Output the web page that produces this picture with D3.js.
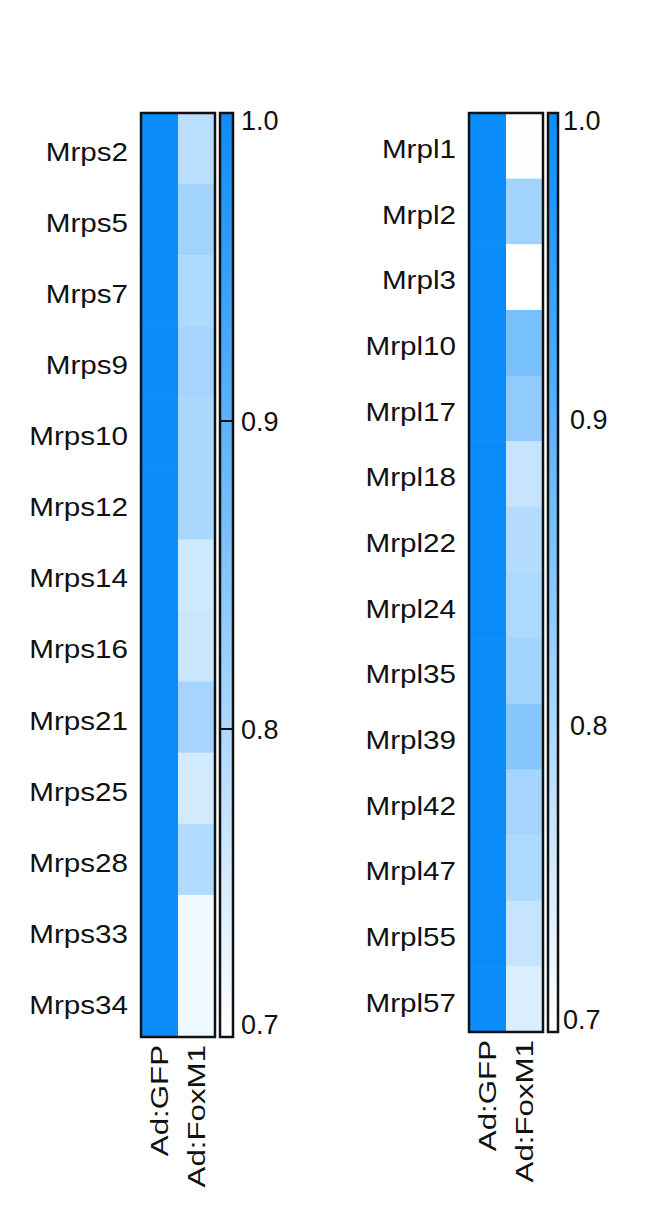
<!DOCTYPE html>
<html>
<head>
<meta charset="utf-8">
<script src="https://cdn.jsdelivr.net/npm/d3@7"></script>
<style>
  html, body { margin: 0; padding: 0; background: #fff; }
  svg { display: block; }
  text { font-family: "Liberation Sans", Arial, sans-serif; fill: #111; }
</style>
</head>
<body>
<svg id="chart" width="650" height="1231"></svg>
<script>
// ---- Data ----
const conditions = ["Ad:GFP", "Ad:FoxM1"];
const mrpsGenes = ["Mrps2","Mrps5","Mrps7","Mrps9","Mrps10","Mrps12","Mrps14","Mrps16","Mrps21","Mrps25","Mrps28","Mrps33","Mrps34"];
const mrpsGFP   = [1,1,1,1,1,1,1,1,1,1,1,1,1];
const mrpsFoxM1 = [0.785,0.815,0.80,0.81,0.805,0.805,0.76,0.765,0.81,0.755,0.795,0.72,0.72];
const mrplGenes = ["Mrpl1","Mrpl2","Mrpl3","Mrpl10","Mrpl17","Mrpl18","Mrpl22","Mrpl24","Mrpl35","Mrpl39","Mrpl42","Mrpl47","Mrpl55","Mrpl57"];
const mrplGFP   = [1,1,1,1,1,1,1,1,1,1,1,1,1,1];
const mrplFoxM1 = [0.705,0.815,0.70,0.865,0.835,0.77,0.79,0.80,0.815,0.85,0.81,0.80,0.77,0.745];
const colorTicks = [1.0, 0.9, 0.8, 0.7];
const colorDomain = [0.7, 1.0];

const svg = d3.select("#chart");
const color = d3.scaleLinear().domain(colorDomain).range(["#ffffff", "#0a8cfb"]).interpolate(d3.interpolateRgb);

function panel(cfg) {
  const g = svg.append("g");
  const y = d3.scaleBand().domain(cfg.genes).range([cfg.top, cfg.bottom]);
  const x = d3.scaleBand().domain(conditions).range([cfg.left, cfg.right]);
  const rows = cfg.genes.map((gname, i) => ({gene: gname, vals: [cfg.gfp[i], cfg.fox[i]]}));

  // cells
  rows.forEach(r => {
    conditions.forEach((c, j) => {
      g.append("rect")
        .attr("x", x(c)).attr("y", y(r.gene))
        .attr("width", x.bandwidth()).attr("height", y.bandwidth() + 0.5)
        .attr("fill", color(r.vals[j]));
    });
  });
  g.append("rect")
    .attr("x", cfg.left).attr("y", cfg.top)
    .attr("width", cfg.right - cfg.left).attr("height", cfg.bottom - cfg.top)
    .attr("fill", "none").attr("stroke", "#111").attr("stroke-width", 2.5);

  // row labels
  g.selectAll(".rowlab").data(cfg.genes).enter().append("text")
    .attr("class", "rowlab")
    .attr("transform", d => `translate(${cfg.left - 13},${y(d) + y.bandwidth()/2 + 3}) scale(1.14,1)`)
    .attr("text-anchor", "end")
    .attr("dy", "0.36em")
    .style("font-size", "26px")
    .text(d => d);

  // column labels (rotated)
  conditions.forEach(c => {
    g.append("text")
      .attr("transform", `translate(${x(c) + x.bandwidth()/2 + 8},${cfg.bottom + 8}) rotate(-90) scale(1.36,1)`)
      .attr("text-anchor", "end")
      .style("font-size", "23px")
      .text(c);
  });

  // colorbar
  const cb = d3.scaleLinear().domain(colorDomain).range([cfg.bottom, cfg.top]);
  const gradId = "grad" + cfg.id;
  const grad = svg.append("defs").append("linearGradient").attr("id", gradId)
    .attr("x1", 0).attr("y1", 1).attr("x2", 0).attr("y2", 0);
  d3.range(0, 1.0001, 0.1).forEach(t => {
    const v = colorDomain[0] + t * (colorDomain[1] - colorDomain[0]);
    grad.append("stop").attr("offset", t).attr("stop-color", color(v));
  });
  g.append("rect")
    .attr("x", cfg.cbLeft).attr("y", cfg.top)
    .attr("width", cfg.cbWidth).attr("height", cfg.bottom - cfg.top)
    .attr("fill", `url(#${gradId})`)
    .attr("stroke", "#111").attr("stroke-width", 2.5);

  if (cfg.innerTicks) {
    g.selectAll(".itick").data(colorTicks.filter(t => t > 0.7 && t < 1.0)).enter()
      .append("line")
      .attr("x1", cfg.cbLeft).attr("x2", cfg.cbLeft + cfg.cbWidth)
      .attr("y1", d => cb(d)).attr("y2", d => cb(d))
      .attr("stroke", "#111").attr("stroke-width", 2);
  }

  colorTicks.forEach(t => {
    const isEnd = (t === 1.0 || t === 0.7);
    let yy = cb(t);
    if (t === 1.0) yy = cfg.top + 7;
    if (t === 0.7) yy = cfg.bottom - 13;
    g.append("text")
      .attr("x", cfg.cbLeft + cfg.cbWidth + (isEnd ? cfg.endPad : cfg.midPad))
      .attr("y", yy)
      .attr("dy", "0.36em")
      .style("font-size", "27px")
      .text(d3.format(".1f")(t));
  });
}

panel({id: "L", genes: mrpsGenes, gfp: mrpsGFP, fox: mrpsFoxM1,
  left: 141, right: 215, top: 113, bottom: 1037,
  cbLeft: 220, cbWidth: 13, innerTicks: true, endPad: 8, midPad: 8});
panel({id: "R", genes: mrplGenes, gfp: mrplGFP, fox: mrplFoxM1,
  left: 469, right: 543, top: 113, bottom: 1032,
  cbLeft: 548, cbWidth: 10, innerTicks: false, endPad: 5, midPad: 12});
</script>
</body>
</html>
